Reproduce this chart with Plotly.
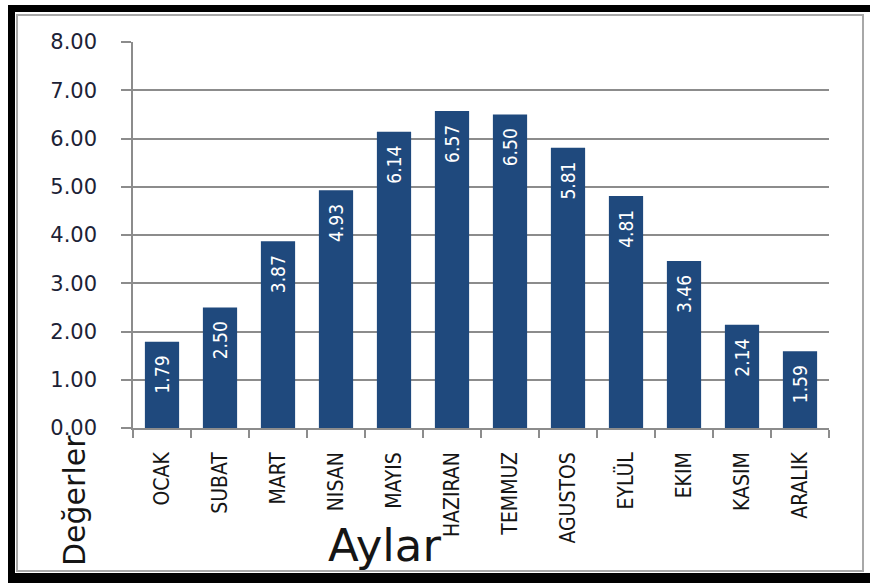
import plotly.graph_objects as go

months = ["OCAK", "SUBAT", "MART", "NISAN", "MAYIS", "HAZIRAN", "TEMMUZ",
          "AGUSTOS", "EYLÜL", "EKIM", "KASIM", "ARALIK"]
values = [1.79, 2.50, 3.87, 4.93, 6.14, 6.57, 6.50, 5.81, 4.81, 3.46, 2.14, 1.59]
y_ticks = [0, 1, 2, 3, 4, 5, 6, 7, 8]
y_title = "Değerler"
x_title = "Aylar"

W, H = 870, 585
L, R, T, B = 133, 41, 42, 157
PW, PH = W - L - R, H - T - B


def px(x):
    return (x - L) / PW


def py(y):
    return (H - B - y) / PH


NB = "\u00a0"
labels = [f"{v:.2f}" + NB * 2 for v in values]

fig = go.Figure()
fig.add_trace(go.Bar(
    x=months, y=values,
    marker=dict(color="#1F497D", line=dict(width=0)),
    text=labels, textposition="inside", insidetextanchor="end",
    textangle=-90,
    textfont=dict(family="Liberation Sans Narrow, DejaVu Sans Condensed, sans-serif",
                  size=19, color="white"),
    hoverinfo="skip",
))

shapes = []
# black outer frame (top, left, bottom)
for x0, y0, x1, y1 in [(8, 5, 870, 12), (8, 5, 15, 583), (8, 573, 870, 583)]:
    shapes.append(dict(type="rect", xref="paper", yref="paper",
                       x0=px(x0), x1=px(x1), y0=py(y0), y1=py(y1),
                       fillcolor="black", line=dict(width=0), layer="below"))
# grey inner frame
shapes.append(dict(type="rect", xref="paper", yref="paper",
                   x0=px(17), x1=px(863), y0=py(15), y1=py(571),
                   fillcolor="rgba(0,0,0,0)", line=dict(color="#A8A8A8", width=2),
                   layer="below"))

annotations = [
    dict(text=x_title, xref="paper", yref="paper", x=px(384), y=py(545),
         xanchor="center", yanchor="middle", showarrow=False,
         font=dict(family="DejaVu Sans, sans-serif", size=45, color="#151515")),
    dict(text=y_title, xref="paper", yref="paper", x=px(74), y=py(501),
         xanchor="center", yanchor="middle", showarrow=False, textangle=-90,
         font=dict(family="DejaVu Sans, sans-serif", size=30, color="#151515")),
]

fig.update_layout(
    width=W, height=H,
    margin=dict(l=L, r=R, t=T, b=B, autoexpand=False),
    paper_bgcolor="white", plot_bgcolor="white",
    showlegend=False, bargap=0.41,
    shapes=shapes, annotations=annotations,
    xaxis=dict(
        type="category", tickson="boundaries", ticks="outside", ticklen=8,
        tickcolor="#8C8C8C", tickwidth=1.5, showline=True, linecolor="#8C8C8C",
        linewidth=1.5, showgrid=False, tickangle=-90, ticklabelstandoff=14,
        tickfont=dict(family="Liberation Sans Narrow, DejaVu Sans Condensed, sans-serif",
                      size=21, color="#151515"),
        fixedrange=True,
    ),
    yaxis=dict(
        range=[0, 8], tickvals=y_ticks, tickformat=".2f", ticks="outside",
        ticklen=10, tickcolor="#8C8C8C", tickwidth=1.5, showline=True,
        linecolor="#8C8C8C", linewidth=1.5, showgrid=True, gridcolor="#8C8C8C",
        gridwidth=1.5, zeroline=False, ticklabelstandoff=20,
        tickfont=dict(family="DejaVu Sans, sans-serif", size=21, color="#1c2236"),
        fixedrange=True,
    ),
)

fig.write_html("out.html", config={"displayModeBar": False},
               post_script="document.body.style.margin='0px';")
